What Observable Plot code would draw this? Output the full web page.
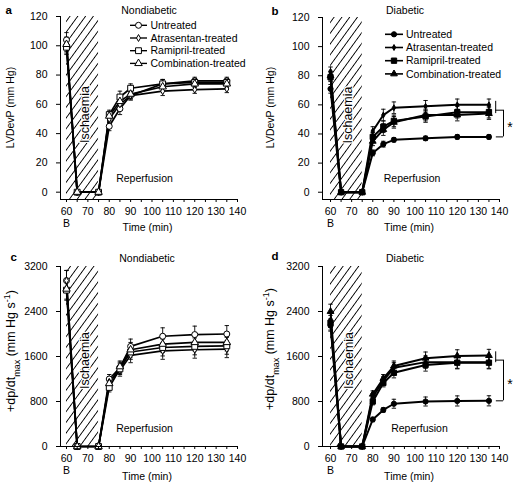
<!DOCTYPE html>
<html><head><meta charset="utf-8">
<script src="https://cdn.jsdelivr.net/npm/d3@7"></script>
<script src="https://cdn.jsdelivr.net/npm/@observablehq/plot@0.6"></script>
<style>
html,body{margin:0;padding:0;background:#fff;}
#root{position:relative;width:514px;height:485px;overflow:hidden;font-family:"Liberation Sans",Arial,sans-serif;}
#root > svg{position:absolute;}
</style></head><body><div id="root"></div>
<script>
// ---------- data ----------
const time = [60, 65, 75, 80, 85, 90, 105, 120, 135];
const groups = ["Untreated", "Atrasentan-treated", "Ramipril-treated", "Combination-treated"];
const groupSymbols = ["circle", "diamond", "square", "triangle"];
const ischaemiaWindow = [60, 75];
const baselineTime = 60;
const baselineLabel = "B";
const xTicks = [60, 65, 70, 75, 80, 85, 90, 95, 100, 105, 110, 115, 120, 125, 130, 135, 140];
const lvTicks = [0, 20, 40, 60, 80, 100, 120];
const dpTicks = [0, 800, 1600, 2400, 3200];

// a: Nondiabetic LVDevP (mm Hg)
const ndLvUntreated   = [104, 0, 0, 45, 57, 66, 74, 76, 76];
const ndLvAtrasentan  = [100, 0, 0, 50, 60, 66, 69, 70, 70.5];
const ndLvRamipril    = [99, 0, 0, 53, 65, 71, 74, 75, 75];
const ndLvCombination = [101, 0, 0, 52, 62, 67, 72, 74, 74];
const ndLvErr = [5, 0, 0, 3, 4, 3, 3, 2.5, 2.5];

// b: Diabetic LVDevP (mm Hg)
const dLvUntreated   = [71, 0, 0, 27, 33, 36, 37, 38, 38];
const dLvAtrasentan  = [83, 0, 0, 42, 53, 58, 59, 60, 60];
const dLvRamipril    = [79, 0, 0, 38, 45, 49, 52, 55, 55];
const dLvCombination = [80, 0, 0, 35, 43, 48, 53, 53, 54];
const dLvErrUntreated = [3, 0, 0, 2, 2, 1.5, 1.5, 1.5, 1.5];
const dLvErrTreated   = [3, 0, 0, 3, 4, 4, 4, 4, 4];

// c: Nondiabetic +dp/dtmax (mm Hg s-1)
const ndDpUntreated   = [2950, 0, 0, 1200, 1400, 1780, 1960, 1990, 2000];
const ndDpAtrasentan  = [2950, 0, 0, 1150, 1350, 1620, 1700, 1720, 1730];
const ndDpRamipril    = [2780, 0, 0, 1050, 1380, 1680, 1760, 1780, 1790];
const ndDpCombination = [2800, 0, 0, 1120, 1420, 1720, 1820, 1850, 1850];
const ndDpErr = [180, 0, 0, 80, 100, 130, 150, 150, 150];

// d: Diabetic +dp/dtmax (mm Hg s-1)
const dDpUntreated   = [2150, 0, 0, 480, 650, 760, 800, 810, 812];
const dDpAtrasentan  = [2250, 0, 0, 880, 1170, 1400, 1500, 1500, 1500];
const dDpRamipril    = [2200, 0, 0, 800, 1130, 1310, 1450, 1490, 1490];
const dDpCombination = [2400, 0, 0, 930, 1210, 1430, 1570, 1610, 1617];
const dDpErrUntreated = [100, 0, 0, 40, 40, 80, 80, 90, 90];
const dDpErrTreated   = [130, 0, 0, 60, 70, 90, 110, 110, 110];

const d3Symbols = {circle: d3.symbolCircle, diamond: d3.symbolDiamond, square: d3.symbolSquare, triangle: d3.symbolTriangle};
const FONT = '"Liberation Sans", Arial, Helvetica, sans-serif';

function buildPanel(cfg) {
  const rows = [];
  cfg.series.forEach((vals, gi) => vals.forEach((v, ti) =>
    rows.push({group: groups[gi], gi, t: time[ti], v, e: cfg.errors[gi][ti]})));
  const withErr = rows.filter(d => d.e > 0);
  const hatchId = "hatch-" + cfg.key;
  const cap = {draw(ctx) { ctx.moveTo(-2.2, 0); ctx.lineTo(2.2, 0); }};

  const legendMark = () => {
    const g = d3.create("svg:g");
    const L = cfg.legend;
    groups.forEach((name, gi) => {
      const y = L.y0 + gi * L.dy;
      g.append("line").attr("x1", L.x1).attr("x2", L.x2).attr("y1", y).attr("y2", y)
        .attr("stroke", "black").attr("stroke-width", cfg.lineWidth * 0.8);
      g.append("path").attr("transform", `translate(${(L.x1 + L.x2) / 2},${y})`)
        .attr("d", d3.symbol(d3Symbols[groupSymbols[gi]], Math.PI * cfg.r[gi] * cfg.r[gi])())
        .attr("fill", cfg.filled ? "black" : "white").attr("stroke", "black").attr("stroke-width", 1);
      g.append("text").attr("x", L.tx).attr("y", y).attr("dy", "0.35em")
        .attr("text-anchor", "start").attr("fill", "black").text(name);
    });
    return g.node();
  };

  const yLabelMark = () => {
    const t = d3.create("svg:text")
      .attr("transform", `translate(${cfg.ylab.x},${cfg.ylab.y}) rotate(-90)`)
      .attr("text-anchor", "middle").attr("dy", "0.35em").attr("fill", "black")
      .attr("font-size", cfg.ylab.size + "px");
    cfg.ylab.parts.forEach(p => {
      const s = t.append("tspan").text(p.text);
      if (p.shift) s.attr("baseline-shift", p.shift).attr("font-size", (cfg.ylab.size * 0.72) + "px");
    });
    return t.node();
  };

  const marks = [
    Plot.rect([ischaemiaWindow], {x1: d => d[0], x2: d => d[1], y1: cfg.yDomain[0], y2: cfg.yDomain[1], fill: `url(#${hatchId})`}),
    Plot.text(["Ischaemia"], {text: d => d, x: cfg.isch[0], y: cfg.isch[1], rotate: -90, fontSize: 12.5, fill: "black", stroke: "white", strokeWidth: 2.5}),
    Plot.text(["Reperfusion"], {text: d => d, x: cfg.rep[0], y: cfg.rep[1], fontSize: 10.5, fill: "black"}),
    Plot.ruleX(withErr, {x: "t", y1: d => d.v - d.e, y2: d => d.v + d.e, stroke: "black", strokeWidth: 0.9}),
    Plot.dot(withErr, {x: "t", y: d => d.v + d.e, symbol: cap, r: 2, fill: "none", stroke: "black", strokeWidth: 0.9}),
    Plot.dot(withErr, {x: "t", y: d => d.v - d.e, symbol: cap, r: 2, fill: "none", stroke: "black", strokeWidth: 0.9}),
    Plot.line(rows, {x: "t", y: "v", z: "group", stroke: "black", strokeWidth: cfg.lineWidth}),
    ...groups.map((g, gi) => Plot.dot(rows.filter(d => d.gi === gi), {
      x: "t", y: "v", symbol: groupSymbols[gi], r: cfg.r[gi],
      fill: cfg.filled ? "black" : "white", stroke: "black", strokeWidth: 1})),
    Plot.ruleX([cfg.xDomain[0]], {stroke: "black", strokeWidth: 1}),
    Plot.ruleY([cfg.yDomain[0]], {stroke: "black", strokeWidth: 1}),
    Plot.axisX({ticks: xTicks, tickFormat: d => d % 10 === 0 ? String(d) : "", tickSize: 3, tickPadding: cfg.xPad, label: null}),
    Plot.axisY({ticks: cfg.yTicks, tickFormat: d => String(d), tickSize: 4, tickPadding: 9, label: null}),
    Plot.text([baselineLabel], {text: d => d, x: baselineTime, frameAnchor: "bottom", dy: cfg.bDy}),
    Plot.text(["Time (min)"], {text: d => d, frameAnchor: "bottom", dy: cfg.timeDy, dx: cfg.timeDx}),
    Plot.text([cfg.title], {text: d => d, frameAnchor: "top", dx: cfg.titleD[0], dy: cfg.titleD[1]}),
    Plot.text([cfg.key], {text: d => d, frameAnchor: "top-left", dx: cfg.letterD[0], dy: cfg.letterD[1], fontWeight: "bold", fontSize: 11.5}),
    yLabelMark
  ];
  if (cfg.legend) marks.push(legendMark);

  if (cfg.bracket) {
    const last = time.length - 1;
    const treated = cfg.series.slice(1).map(s => s[last]);
    const top = d3.mean(treated);
    const bottom = cfg.series[0][last];
    const bx = cfg.bracket;
    marks.push(
      Plot.ruleX([bx[0]], {y1: d3.min(treated), y2: d3.max(treated) + cfg.errors[1][last] * 0.6, stroke: "black"}),
      Plot.ruleY([top], {x1: bx[0], x2: bx[1], stroke: "black"}),
      Plot.ruleY([bottom], {x1: bx[0] + 0.3, x2: bx[1], stroke: "black"}),
      Plot.ruleX([bx[1]], {y1: bottom, y2: top, stroke: "black"}),
      Plot.text(["*"], {text: d => d, x: bx[2], y: (top + bottom) / 2, dy: 4, fontSize: 14})
    );
  }

  const chart = Plot.plot({
    width: 257, height: cfg.h,
    marginLeft: cfg.m[0], marginRight: cfg.m[1], marginTop: cfg.m[2], marginBottom: cfg.m[3],
    x: {type: "linear", domain: cfg.xDomain},
    y: {type: "linear", domain: cfg.yDomain},
    style: {fontFamily: FONT, fontSize: "10.5px", overflow: "visible", background: "transparent", color: "black"},
    marks
  });

  const svg = d3.select(chart);
  const defs = svg.insert("defs", ":first-child");
  const pat = defs.append("pattern").attr("id", hatchId).attr("patternUnits", "userSpaceOnUse")
    .attr("width", 6.3).attr("height", 10).attr("patternTransform", "rotate(36)");
  pat.append("line").attr("x1", 3).attr("x2", 3).attr("y1", -1).attr("y2", 11)
    .attr("stroke", "black").attr("stroke-width", 1).attr("shape-rendering", "crispEdges");
  svg.style("left", cfg.pos[0] + "px").style("top", cfg.pos[1] + "px");
  document.getElementById("root").appendChild(chart);
}

const lvLabel = [{text: "LVDevP (mm Hg)"}];
const dpLabel = [{text: "+dp/dt"}, {text: "max", shift: "sub"}, {text: " (mm Hg s"}, {text: "-1", shift: "super"}, {text: ")"}];

buildPanel({
  key: "a", pos: [0, 0], h: 240, m: [60, 20, 16, 41],
  xDomain: [57.2, 140], yDomain: [-5, 120], yTicks: lvTicks,
  series: [ndLvUntreated, ndLvAtrasentan, ndLvRamipril, ndLvCombination],
  errors: [ndLvErr, ndLvErr, ndLvErr, ndLvErr],
  filled: false, r: [3, 2.1, 3.3, 2.8], lineWidth: 1.7,
  isch: [68.8, 53], rep: [96.5, 9.4], xPad: 5.5,
  bDy: 27, timeDy: 31, timeDx: -1.5, titleD: [0, -10], letterD: [-55, -11],
  title: "Nondiabetic",
  legend: {x1: 130, x2: 147, tx: 150.5, y0: 25.3, dy: 12.7},
  ylab: {x: 10, y: 107.5, size: 10.5, parts: lvLabel}
});
buildPanel({
  key: "b", pos: [257, 0], h: 240, m: [65, 15, 17, 41],
  xDomain: [56.2, 140], yDomain: [-5, 120], yTicks: lvTicks,
  series: [dLvUntreated, dLvAtrasentan, dLvRamipril, dLvCombination],
  errors: [dLvErrUntreated, dLvErrTreated, dLvErrTreated, dLvErrTreated],
  filled: true, r: [2.6, 1.8, 3, 2.5], lineWidth: 2,
  isch: [68.5, 53], rep: [98.6, 9], xPad: 5.5,
  bDy: 27, timeDy: 31, timeDx: -2, titleD: [-6, -11], letterD: [-51, -11],
  title: "Diabetic",
  legend: {x1: 128, x2: 146, tx: 149, y0: 34.3, dy: 13.2},
  ylab: {x: 13.5, y: 107.5, size: 10.5, parts: lvLabel},
  bracket: [138.2, 141.9, 145]
});
buildPanel({
  key: "c", pos: [0, 240], h: 245, m: [60, 20, 26, 39],
  xDomain: [57.2, 140], yDomain: [0, 3200], yTicks: dpTicks,
  series: [ndDpUntreated, ndDpAtrasentan, ndDpRamipril, ndDpCombination],
  errors: [ndDpErr, ndDpErr, ndDpErr, ndDpErr],
  filled: false, r: [3, 2.1, 3.3, 2.8], lineWidth: 1.7,
  isch: [68.8, 1530], rep: [96.5, 320], xPad: 5,
  bDy: 27.5, timeDy: 33, timeDx: -2, titleD: [-2, -12], letterD: [-50, -14],
  title: "Nondiabetic",
  legend: null,
  ylab: {x: 11, y: 111, size: 12.5, parts: dpLabel}
});
buildPanel({
  key: "d", pos: [257, 240], h: 245, m: [65, 15, 26, 39],
  xDomain: [56.2, 140], yDomain: [0, 3200], yTicks: dpTicks,
  series: [dDpUntreated, dDpAtrasentan, dDpRamipril, dDpCombination],
  errors: [dDpErrUntreated, dDpErrTreated, dDpErrTreated, dDpErrTreated],
  filled: true, r: [2.6, 1.8, 3, 2.5], lineWidth: 2,
  isch: [68.6, 1530], rep: [102.1, 320], xPad: 5,
  bDy: 27.5, timeDy: 33, timeDx: -2, titleD: [-6, -12], letterD: [-51, -15],
  title: "Diabetic",
  legend: null,
  ylab: {x: 12.5, y: 109, size: 12.5, parts: dpLabel},
  bracket: [138.2, 141.9, 145]
});
</script>
</body></html>
